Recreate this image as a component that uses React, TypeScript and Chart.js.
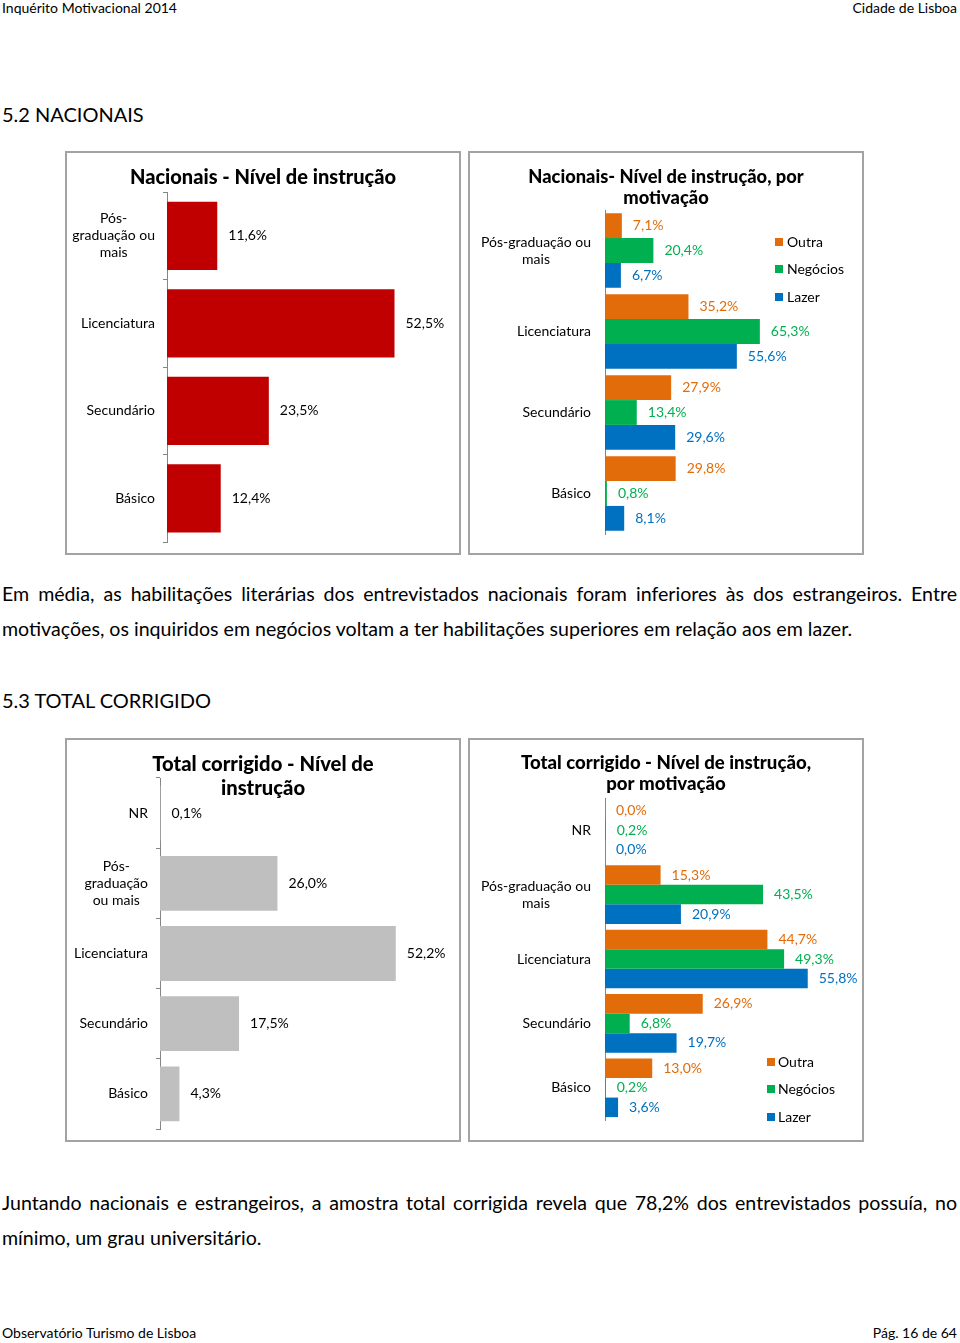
import React, { useEffect, useRef } from 'react';
import { Chart, registerables } from 'chart.js';

Chart.register(...registerables);

const FONT = 'Lato, "Open Sans", sans-serif';
const AXIS = '#868686';

// ---- Data ----
const seriesNames = ['Outra', 'Negócios', 'Lazer'];
const seriesColors = ['#E36C0A', '#00B050', '#0070C0'];

const nacLevels = [['Pós-', 'graduação ou', 'mais'], 'Licenciatura', 'Secundário', 'Básico'];
const nacTotal = [11.6, 52.5, 23.5, 12.4];

const nacMotivLevels = [['Pós-graduação ou', 'mais'], 'Licenciatura', 'Secundário', 'Básico'];
const nacOutra = [7.1, 35.2, 27.9, 29.8];
const nacNegocios = [20.4, 65.3, 13.4, 0.8];
const nacLazer = [6.7, 55.6, 29.6, 8.1];

const totLevels = ['NR', ['Pós-', 'graduação', 'ou mais'], 'Licenciatura', 'Secundário', 'Básico'];
const totTotal = [0.1, 26.0, 52.2, 17.5, 4.3];

const totMotivLevels = ['NR', ['Pós-graduação ou', 'mais'], 'Licenciatura', 'Secundário', 'Básico'];
const totOutra = [0.0, 15.3, 44.7, 26.9, 13.0];
const totNegocios = [0.2, 43.5, 49.3, 6.8, 0.2];
const totLazer = [0.0, 20.9, 55.8, 19.7, 3.6];

const W = 396;
const H = 404;

const fmt = (v: number) => v.toFixed(1).replace('.', ',') + '%';

type Spec = {
  labels: any[];
  datasets: { label: string; data: number[]; color: string; textColor: string }[];
  title: string[];
  titleYs: number[];
  titleSize: number;
  axisX: number;
  padTop: number;
  padBottom: number;
  padRight: number;
  xMax: number;
  barPct: number;
  catPct: number;
  ticks: boolean;
  yPad: number;
  legend?: { sqX: number; textX: number; ys: number[] };
};

function BarPanel({ spec, left, top }: { spec: Spec; left: number; top: number }) {
  const ref = useRef<HTMLCanvasElement>(null);
  useEffect(() => {
    const s = spec;
    const overlay = {
      id: 'overlay',
      afterDraw(chart: any) {
        const ctx = chart.ctx as CanvasRenderingContext2D;
        const area = chart.chartArea;
        const yScale = chart.scales.y;
        ctx.save();
        // title
        ctx.fillStyle = '#000';
        ctx.textAlign = 'center';
        ctx.textBaseline = 'middle';
        ctx.font = `900 ${s.titleSize}px ${FONT}`;
        s.title.forEach((t, i) => ctx.fillText(t, W / 2, s.titleYs[i]));
        // category labels
        ctx.font = `14px ${FONT}`;
        chart.data.labels.forEach((lab: any, i: number) => {
          const lines: string[] = Array.isArray(lab) ? lab : [lab];
          const w = Math.max(...lines.map((l) => ctx.measureText(l).width));
          const cx = area.left - s.yPad - w / 2;
          const cy = yScale.getPixelForValue(i);
          lines.forEach((l, k) => ctx.fillText(l, cx, cy + (k - (lines.length - 1) / 2) * 17));
        });
        // value labels
        ctx.textAlign = 'left';
        chart.data.datasets.forEach((ds: any, di: number) => {
          const meta = chart.getDatasetMeta(di);
          ctx.fillStyle = s.datasets[di].textColor;
          meta.data.forEach((el: any, i: number) => {
            ctx.fillText(fmt(ds.data[i]), el.x + 11, el.y);
          });
        });
        // legend
        if (s.legend) {
          const lg = s.legend;
          chart.data.datasets.forEach((ds: any, di: number) => {
            ctx.fillStyle = ds.backgroundColor;
            ctx.fillRect(lg.sqX, lg.ys[di] - 4, 8, 8);
            ctx.fillStyle = '#000';
            ctx.fillText(ds.label, lg.textX, lg.ys[di]);
          });
        }
        ctx.restore();
      },
    };
    const chart = new Chart(ref.current as HTMLCanvasElement, {
      type: 'bar',
      data: {
        labels: s.labels,
        datasets: s.datasets.map((d) => ({
          label: d.label,
          data: d.data,
          backgroundColor: d.color,
          borderWidth: 0,
          barPercentage: s.barPct,
          categoryPercentage: s.catPct,
        })),
      },
      options: {
        indexAxis: 'y',
        animation: false,
        responsive: false,
        devicePixelRatio: 1,
        layout: { padding: { top: s.padTop, bottom: s.padBottom, right: s.padRight, left: 0 } },
        plugins: { legend: { display: false }, tooltip: { enabled: false }, title: { display: false } },
        scales: {
          x: { display: false, min: 0, max: s.xMax },
          y: {
            afterFit: (sc: any) => {
              sc.width = s.axisX;
            },
            ticks: { display: false },
            grid: {
              display: s.ticks,
              drawOnChartArea: false,
              drawTicks: true,
              tickLength: 4,
              color: AXIS,
              offset: true,
            },
            border: { display: true, color: AXIS, width: 1 },
          },
        },
      } as any,
      plugins: [overlay],
    });
    return () => chart.destroy();
  }, []);
  return (
    <>
      <canvas
        ref={ref}
        width={W}
        height={H}
        style={{ position: 'absolute', left, top, width: W, height: H }}
      />
      <div
        style={{
          position: 'absolute',
          left,
          top,
          width: W,
          height: H,
          boxSizing: 'border-box',
          border: '2px solid #a3a3a3',
          pointerEvents: 'none',
        }}
      />
    </>
  );
}

const spec1: Spec = {
  labels: nacLevels,
  datasets: [{ label: 'Nacionais', data: nacTotal, color: '#C00000', textColor: '#000' }],
  title: ['Nacionais - Nível de instrução'],
  titleYs: [27],
  titleSize: 20,
  axisX: 102,
  padTop: 41,
  padBottom: 13,
  padRight: 34,
  xMax: 60,
  barPct: 0.78,
  catPct: 1,
  ticks: true,
  yPad: 12,
};

const spec2: Spec = {
  labels: nacMotivLevels,
  datasets: [
    { label: seriesNames[0], data: nacOutra, color: seriesColors[0], textColor: seriesColors[0] },
    { label: seriesNames[1], data: nacNegocios, color: seriesColors[1], textColor: seriesColors[1] },
    { label: seriesNames[2], data: nacLazer, color: seriesColors[2], textColor: seriesColors[2] },
  ],
  title: ['Nacionais- Nível de instrução, por', 'motivação'],
  titleYs: [26, 47],
  titleSize: 18.3,
  axisX: 137,
  padTop: 59,
  padBottom: 21,
  padRight: 93,
  xMax: 70,
  barPct: 1,
  catPct: 0.92,
  ticks: false,
  yPad: 14,
  legend: { sqX: 307, textX: 319, ys: [91, 118, 146] },
};

const spec3: Spec = {
  labels: totLevels,
  datasets: [{ label: 'Total', data: totTotal, color: '#BFBFBF', textColor: '#000' }],
  title: ['Total corrigido - Nível de', 'instrução'],
  titleYs: [26, 50],
  titleSize: 20.2,
  axisX: 95,
  padTop: 40,
  padBottom: 13,
  padRight: 30,
  xMax: 60,
  barPct: 0.78,
  catPct: 1,
  ticks: true,
  yPad: 12,
};

const spec4: Spec = {
  labels: totMotivLevels,
  datasets: [
    { label: seriesNames[0], data: totOutra, color: seriesColors[0], textColor: seriesColors[0] },
    { label: seriesNames[1], data: totNegocios, color: seriesColors[1], textColor: seriesColors[1] },
    { label: seriesNames[2], data: totLazer, color: seriesColors[2], textColor: seriesColors[2] },
  ],
  title: ['Total corrigido - Nível de instrução,', 'por motivação'],
  titleYs: [25, 46],
  titleSize: 18.6,
  axisX: 137,
  padTop: 60,
  padBottom: 22,
  padRight: 41,
  xMax: 60,
  barPct: 1,
  catPct: 0.91,
  ticks: false,
  yPad: 14,
  legend: { sqX: 299, textX: 310, ys: [324, 351, 379] },
};

function Line({ y, size, children, align = 'left', justify = false }: any) {
  return (
    <div
      style={{
        position: 'absolute',
        left: 2,
        width: 955,
        top: y - 12,
        height: 24,
        lineHeight: '24px',
        fontSize: size,
        fontFamily: FONT,
        color: '#000',
        whiteSpace: justify ? 'normal' : 'nowrap',
        textAlign: justify ? 'justify' : align,
        textAlignLast: justify ? 'justify' : align,
      } as any}
    >
      {children}
    </div>
  );
}

export default function App() {
  return (
    <div
      style={{
        position: 'absolute',
        left: 0,
        top: 0,
        width: 960,
        height: 1343,
        background: '#fff',
        overflow: 'hidden',
      }}
    >
      <Line y={8} size={14}>Inquérito Motivacional 2014</Line>
      <Line y={8} size={14} align="right">Cidade de Lisboa</Line>
      <Line y={114} size={20}>5.2 NACIONAIS</Line>

      <BarPanel spec={spec1} left={65} top={151} />
      <BarPanel spec={spec2} left={468} top={151} />

      <Line y={594} size={19.6} justify>
        Em média, as habilitações literárias dos entrevistados nacionais foram inferiores às dos estrangeiros. Entre
      </Line>
      <Line y={629} size={19.6}>
        motivações, os inquiridos em negócios voltam a ter habilitações superiores em relação aos em lazer.
      </Line>

      <Line y={700} size={20}>5.3 TOTAL CORRIGIDO</Line>

      <BarPanel spec={spec3} left={65} top={738} />
      <BarPanel spec={spec4} left={468} top={738} />

      <Line y={1203} size={19.6} justify>
        Juntando nacionais e estrangeiros, a amostra total corrigida revela que 78,2% dos entrevistados possuía, no
      </Line>
      <Line y={1238} size={19.6}>
        mínimo, um grau universitário.
      </Line>

      <Line y={1333} size={14}>Observatório Turismo de Lisboa</Line>
      <Line y={1333} size={14} align="right">Pág. 16 de 64</Line>
    </div>
  );
}
